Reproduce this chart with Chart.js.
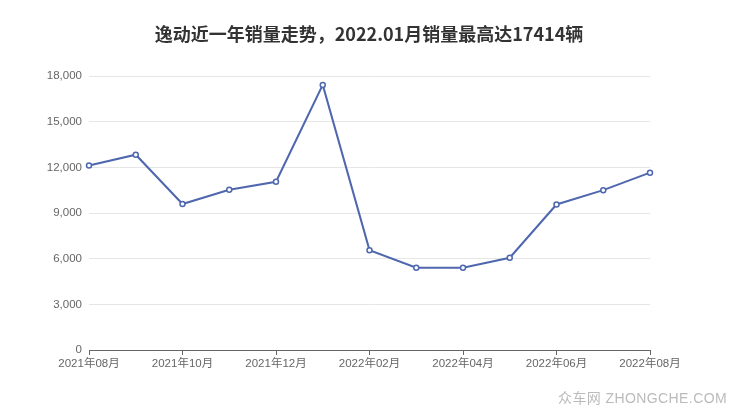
<!DOCTYPE html>
<html>
<head>
<meta charset="utf-8">
<script src="https://cdn.jsdelivr.net/npm/chart.js@4/dist/chart.umd.min.js"></script>
<style>
  html, body { margin: 0; padding: 0; background: #fff; }
  #wrap { position: relative; width: 740px; height: 417px; }
  #title { position: absolute; left: 0; width: 738px; top: 21px; text-align: center; font-family: "Noto Sans CJK SC", sans-serif; font-size: 18px; font-weight: bold; color: #333; line-height: 24px; }
  #wm { position: absolute; right: 13px; top: 389px; font-family: "Liberation Sans", "Noto Sans CJK SC", sans-serif; font-size: 14px; color: #bbb; letter-spacing: 0.4px; line-height: 18px; }
</style>
</head>
<body>
<div id="wrap">
  <canvas id="c" width="740" height="417"></canvas>
  <div id="title"></div>
  <div id="wm">众车网 ZHONGCHE.COM</div>
</div>
<script>
const titleText = "逸动近一年销量走势，2022.01月销量最高达17414辆";
const months = ["2021年08月","2021年09月","2021年10月","2021年11月","2021年12月","2022年01月","2022年02月","2022年03月","2022年04月","2022年05月","2022年06月","2022年07月","2022年08月"];
const sales = [12120, 12830, 9590, 10530, 11050, 17414, 6560, 5410, 5410, 6060, 9560, 10500, 11650];
const yTicks = [0, 3000, 6000, 9000, 12000, 15000, 18000];

document.getElementById("title").textContent = titleText;

const lineColor = "#4f67ae";
const fontFam = "'Liberation Sans', 'Noto Sans CJK SC', sans-serif";

new Chart(document.getElementById("c"), {
  type: "line",
  data: {
    labels: months,
    datasets: [{
      data: sales,
      borderColor: lineColor,
      backgroundColor: "#fff",
      borderWidth: 2,
      pointRadius: 2.5,
      pointBorderWidth: 1.5,
      pointBorderColor: lineColor,
      pointBackgroundColor: "#fff",
      tension: 0
    }]
  },
  options: {
    responsive: false,
    animation: false,
    layout: { padding: { left: 0, right: 90, top: 76, bottom: 30 } },
    plugins: {
      legend: { display: false },
      tooltip: { enabled: false },
      title: { display: false }
    },
    scales: {
      x: {
        type: "category",
        offset: false,
        grid: { display: true, drawOnChartArea: false, drawTicks: true, tickLength: 5, color: "#666" },
        border: { display: true, color: "#666", width: 1 },
        ticks: {
          autoSkip: false,
          maxRotation: 0,
          color: "#666",
          font: { family: fontFam, size: 11.5 },
          padding: 2,
          callback: function(v, i) { return i % 2 === 0 ? months[i] : null; }
        },
        afterFit: function(s) { s.height = 37; }
      },
      y: {
        min: 0,
        max: 18000,
        afterBuildTicks: function(s) { s.ticks = yTicks.map(v => ({ value: v })); },
        grid: { color: "#e6e6e6", drawTicks: false },
        border: { display: false },
        ticks: {
          color: "#666",
          font: { family: fontFam, size: 11.5 },
          padding: 7,
          callback: function(v) { return v.toLocaleString("en-US"); }
        },
        afterFit: function(s) { s.width = 89; }
      }
    }
  }
});
</script>
</body>
</html>
